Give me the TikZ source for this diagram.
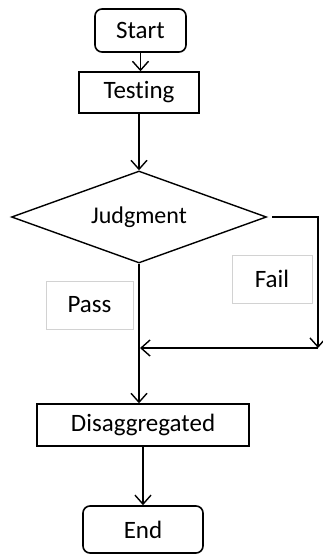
\documentclass[tikz,border=0pt]{standalone}
\usepackage{fontspec}
\setmainfont{Carlito}[Ligatures=NoCommon]
\usetikzlibrary{shapes.geometric,arrows.meta,positioning,calc}

\begin{document}
\begin{tikzpicture}[x=1pt, y=-1pt,
    every node/.style={font=\fontsize{25}{29}\selectfont, inner sep=0pt},
    terminal/.style={draw, line width=1.6pt, rounded corners=7pt},
    process/.style={draw, line width=1.4pt},
    decision/.style={draw, diamond, aspect=2.77, line width=1.4pt},
    tag/.style={draw=gray!35, line width=0.8pt},
    flow/.style={line width=1.4pt, -{Straight Barb[length=9pt, width=16pt, line width=1.4pt]}}]
                \useasboundingbox (0,0) rectangle (323,554);
                
                % Start and testing
                \node[terminal, minimum width=91pt, minimum height=43pt] (start) at (140.5, 30.5) {Start};
                \node[process, minimum width=120pt, minimum height=41pt] (testing) at (139, 92.5) {Testing};
                
                % Judgment (decision)
                \node[decision, minimum width=255pt, minimum height=92pt, font=\fontsize{24}{28}\selectfont] (judge) at (139, 217) {Judgment};
                
                % Branch labels
                \node[tag, minimum width=87pt, minimum height=48pt] (pass) at (89.5, 305) {Pass};
                \node[tag, minimum width=80pt, minimum height=48pt] (fail) at (272, 279) {Fail};
                
                % Disaggregated and end
                \node[process, minimum width=212pt, minimum height=42pt] (disagg) at (143, 425) {Disaggregated};
                \node[terminal, minimum width=120pt, minimum height=47pt] (end) at (143, 529.5) {End};
                
                % Fail route
                \coordinate (failtop) at (318, 217);
                \coordinate (failbot) at (318, 348);
                \coordinate (merge) at (140, 348);
                
                % Connectors
                \draw[flow] (start) -- (start |- testing.north);
                \draw[flow] (testing) -- (judge.north);
                \draw[flow] ($(judge.east)+(5,0)$) -- (failtop) -- (failbot);
                \draw[flow] (failbot) -- (merge);
                \draw[flow] (judge.south) -- (judge.south |- disagg.north);
                \draw[flow] (disagg) -- (end);
            \end{tikzpicture}
\end{document}
